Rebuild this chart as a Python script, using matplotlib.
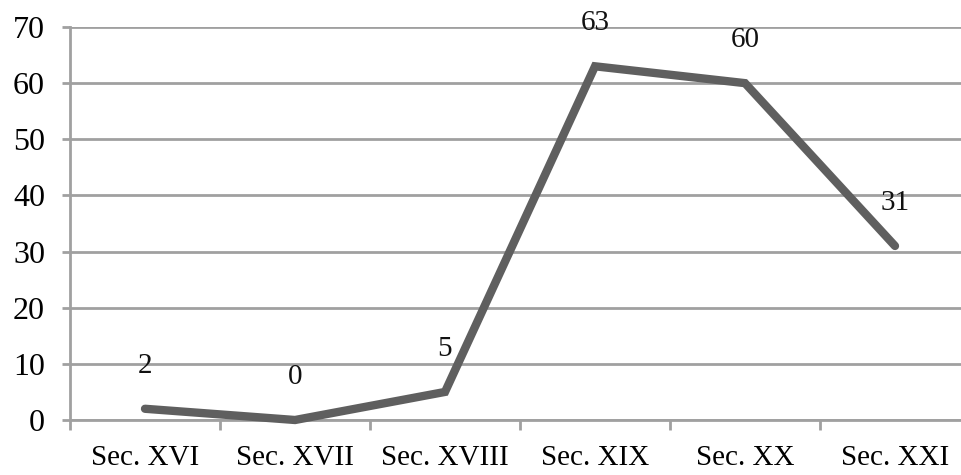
import matplotlib.pyplot as plt
import numpy as np

# datos
categorias = ['Sec. XVI', 'Sec. XVII', 'Sec. XVIII', 'Sec. XIX', 'Sec. XX', 'Sec. XXI']
valores = [2, 0, 5, 63, 60, 31]
yticks = [0, 10, 20, 30, 40, 50, 60, 70]

plt.rcParams['font.family'] = ['Liberation Serif', 'DejaVu Serif']

fig = plt.figure(figsize=(9.62, 4.75), dpi=100)
ax = fig.add_axes([70 / 962, 55 / 475, 900 / 962, 393 / 475])

x = np.arange(len(categorias))
ax.plot(x, valores, color='#5f5f5f', linewidth=6, solid_capstyle='round',
        solid_joinstyle='miter', zorder=3, clip_on=False)

for xi, v in zip(x, valores):
    ax.annotate(str(v), (xi, v), xytext=(0, 31), textcoords='offset points',
                ha='center', va='center', fontsize=21, color='#111111')

ax.set_xlim(-0.5, len(categorias) - 0.5)
ax.set_ylim(0, 70)
ax.set_yticks(yticks)
ax.set_yticklabels([str(t) for t in yticks], fontsize=23)
ax.grid(axis='y', color='#a0a0a0', linewidth=2)
ax.set_axisbelow(True)

# ticks del eje x entre categorias
ax.set_xticks(np.arange(-0.5, len(categorias), 1.0))
ax.set_xticklabels([])
ax.set_xticks(x, minor=True)
ax.set_xticklabels(categorias, minor=True, fontsize=21)
ax.tick_params(axis='x', which='minor', length=0, pad=18)
ax.tick_params(axis='x', which='major', length=7, width=2, color='#a0a0a0')
ax.tick_params(axis='y', length=6, width=2, color='#a0a0a0', pad=12)

for s in ['top', 'right']:
    ax.spines[s].set_visible(False)
for s in ['left', 'bottom']:
    ax.spines[s].set_color('#a0a0a0')
    ax.spines[s].set_linewidth(2)

plt.savefig('out.png', dpi=100)
